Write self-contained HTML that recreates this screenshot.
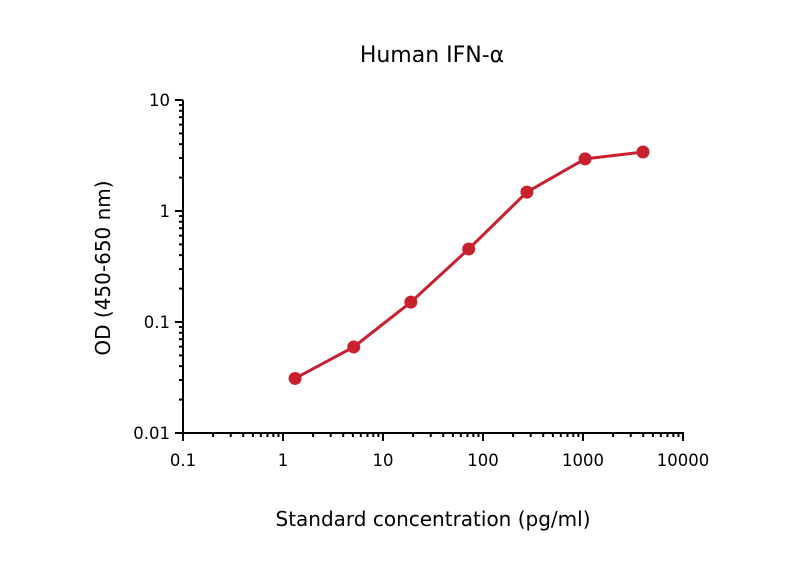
<!DOCTYPE html>
<html><head><meta charset="utf-8"><style>
body{margin:0;background:#fff}
svg text{font-family:"DejaVu Sans","Liberation Sans",sans-serif;fill:#000}
</style></head><body>
<svg width="800" height="566" viewBox="0 0 800 566">
<script>
const concentrations=[1.32,5.1,19,72,275,1050,3980];
const odValues=[0.031,0.0596,0.151,0.455,1.48,2.95,3.4];
const xTickLabels=["0.1","1","10","100","1000","10000"];
const yTickLabels=["0.01","0.1","1","10"];
</script>
<text x="432" y="62" font-size="22" text-anchor="middle">Human IFN-α</text>
<text x="433" y="526" font-size="20" text-anchor="middle">Standard concentration (pg/ml)</text>
<text transform="translate(110,268) rotate(-90)" font-size="20" text-anchor="middle">OD (450-650 nm)</text>
<g id="axes" stroke="#000" stroke-width="2" fill="none"></g>
<g id="labels" font-size="16.5"></g>
<g id="series"></g>
<script>
const ns="http://www.w3.org/2000/svg";
const X0=183,X1=683,Y0=433,Y1=100;
function xs(v){return X0+(Math.log10(v)+1)/5*(X1-X0);}
function ys(v){return Y0-(Math.log10(v)+2)/3*(Y0-Y1);}
function mk(t,a,p){const e=document.createElementNS(ns,t);for(const k in a)e.setAttribute(k,a[k]);p.appendChild(e);return e;}
const ax=document.getElementById('axes'),lb=document.getElementById('labels'),se=document.getElementById('series');
const xl=mk('line',{x1:X0,y1:Y0,x2:X1+1,y2:Y0},ax);


const yl=mk('line',{x1:X0,y1:Y0+1,x2:X0,y2:Y1},ax);


for(let d=-1;d<4;d++)for(let m=1;m<10;m++){const v=m*Math.pow(10,d),x=xs(v);const t=mk('line',{x1:x,y1:Y0,x2:x,y2:Y0+(m==1?8:4)},ax);

}
{const t=mk('line',{x1:xs(10000),y1:Y0,x2:xs(10000),y2:Y0+8},ax);

}
for(let d=-2;d<1;d++)for(let m=1;m<10;m++){const v=m*Math.pow(10,d),y=ys(v);const t=mk('line',{x1:X0,y1:y,x2:X0-(m==1?8:4),y2:y},ax);

}
{const t=mk('line',{x1:X0,y1:ys(10),x2:X0-8,y2:ys(10)},ax);

}
xTickLabels.forEach(s=>{const e=mk('text',{x:xs(parseFloat(s)),y:Y0+33,'text-anchor':'middle'},lb);e.textContent=s;

});
yTickLabels.forEach(s=>{const e=mk('text',{x:X0-13,y:ys(parseFloat(s))+6,'text-anchor':'end'},lb);e.textContent=s;

});
const pts=concentrations.map((c,i)=>xs(c)+','+ys(odValues[i])).join(' ');
const pl=mk('polyline',{points:pts,fill:'none',stroke:'#c8202e','stroke-width':3,'stroke-linejoin':'round'},se);


concentrations.forEach((c,i)=>{const p=mk('circle',{cx:xs(c),cy:ys(odValues[i]),r:6.5,fill:'#c8202e'},se);

});
</script>
</svg>
</body></html>
